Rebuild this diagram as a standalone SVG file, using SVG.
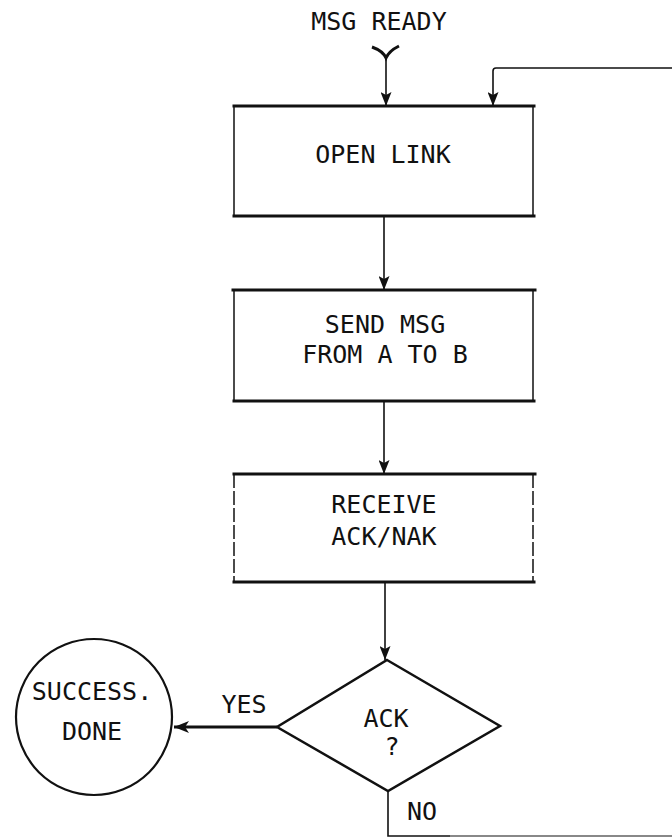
<svg xmlns="http://www.w3.org/2000/svg" width="672" height="838" viewBox="0 0 672 838">
<style>
  text { font-family: "DejaVu Sans Mono", "Liberation Mono", monospace; font-size: 25px; fill: #111; text-anchor: middle; }
  .edge { fill: none; stroke: #111; stroke-width: 3; stroke-linecap: square; }
  .side { fill: none; stroke: #111; stroke-width: 1.5; }
  .conn { fill: none; stroke: #111; stroke-width: 1.6; }
  .thick { fill: none; stroke: #111; stroke-width: 3; }
</style>
<defs>
  <marker id="ah" markerWidth="15" markerHeight="11" refX="14" refY="5.5" orient="auto" markerUnits="userSpaceOnUse" viewBox="0 0 15 11">
    <path d="M0,0 L14,5.5 L0,11 L3,5.5 Z" fill="#111"/>
  </marker>
  <marker id="ah2" markerWidth="16" markerHeight="12" refX="1" refY="6" orient="0" markerUnits="userSpaceOnUse" viewBox="0 0 16 12">
    <path d="M1,6 L16,0 L12,6 L16,12 Z" fill="#111"/>
  </marker>
</defs>

<g id="start">
  <text x="379" y="30">MSG READY</text>
  <path class="thick" d="M372,47 Q383,51 386,58 Q389,51 399,46" stroke-width="2.5"/>
</g>

<g id="connectors">
  <path class="conn" d="M386,58 L386,106" marker-end="url(#ah)"/>
  <path class="conn" d="M672,68 L496,68 Q493,68 493,71 L493,106" marker-end="url(#ah)" stroke-width="2"/>
  <path class="conn" d="M384,217 L384,290" marker-end="url(#ah)"/>
  <path class="conn" d="M384,401 L384,474" marker-end="url(#ah)"/>
  <path class="conn" d="M385,583 L385,660" marker-end="url(#ah)"/>
  <path class="thick" d="M277,727 L174,727" marker-end="url(#ah2)"/>
  <path class="conn" d="M388,790 L388,836 L450,836" stroke-width="2"/>
  <path d="M450,836 L672,836" fill="none" stroke="#888" stroke-width="2"/>
  <text x="244" y="713">YES</text>
  <text x="422" y="820">NO</text>
</g>

<g id="open-link">
  <path class="edge" d="M234,106 L534,106"/>
  <path class="edge" d="M234,216 L534,216"/>
  <path class="side" d="M234,106 L234,216 M533,106 L533,216"/>
  <text x="383" y="163">OPEN LINK</text>
</g>

<g id="send-msg">
  <path class="edge" d="M233,290 L535,290"/>
  <path class="edge" d="M234,401 L534,401"/>
  <path class="side" d="M234,290 L234,401 M533,290 L533,401"/>
  <text x="385" y="333">SEND MSG</text>
  <text x="385" y="363">FROM A TO B</text>
</g>

<g id="receive">
  <path class="edge" d="M234,474 L535,474"/>
  <path class="edge" d="M234,582 L534,582"/>
  <path class="side" d="M234,474 L234,582 M533,474 L533,582" stroke-dasharray="14,3"/>
  <text x="384" y="513">RECEIVE</text>
  <text x="384" y="545">ACK/NAK</text>
</g>

<g id="ack-decision">
  <path d="M387,660 L500,726 L388,791 L277,727 Z" fill="none" stroke="#111" stroke-width="2.5" stroke-linejoin="miter"/>
  <text x="386" y="727">ACK</text>
  <text x="392" y="755">?</text>
</g>

<g id="success">
  <circle cx="94" cy="717" r="78" fill="none" stroke="#111" stroke-width="2.2"/>
  <text x="92" y="700">SUCCESS.</text>
  <text x="92" y="740">DONE</text>
</g>
</svg>
